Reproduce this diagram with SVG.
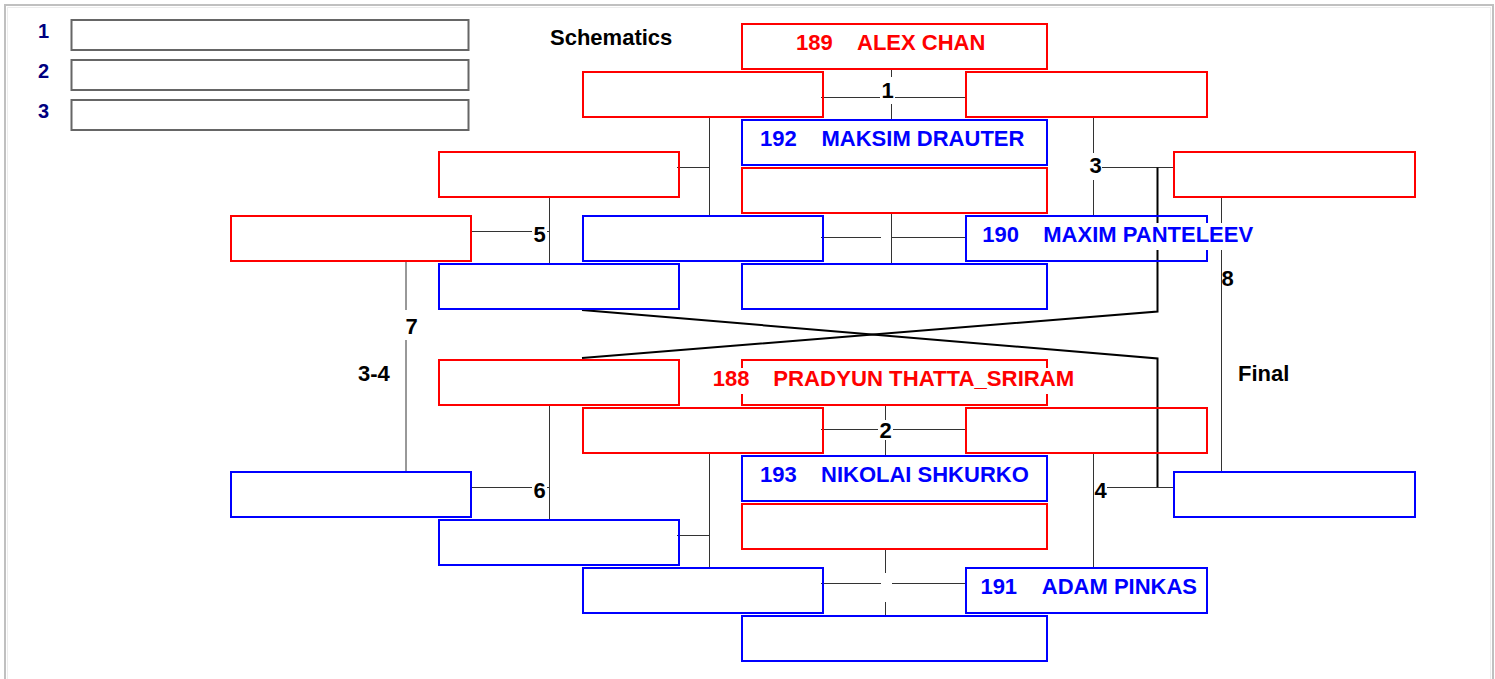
<svg xmlns="http://www.w3.org/2000/svg" width="1495" height="679" viewBox="0 0 1495 679">
<style>
  .frame{fill:none;stroke:#c0c0c0;stroke-width:2}
  .frame2{fill:none;stroke:#ececec;stroke-width:1}
  .gbox{fill:none;stroke:#666;stroke-width:2}
  .r{fill:none;stroke:#ff0000;stroke-width:2}
  .b{fill:none;stroke:#0000ff;stroke-width:2}
  .ln{fill:none;stroke:#333;stroke-width:1}
  .th{fill:none;stroke:#000;stroke-width:2}
  .bg{fill:#fff}
  text{font-family:"Liberation Sans",Arial,Helvetica,sans-serif;font-weight:bold;font-size:22px}
  .k{fill:#000}
  .nv{fill:#000080;font-size:20px}
  .tr{fill:#ff0000}
  .tb{fill:#0000ff}
  .mid{text-anchor:middle}
</style>
<rect class="frame" x="5" y="5" width="1488" height="700"/>
<rect class="frame2" x="7.5" y="7.5" width="1483" height="700"/>

<g id="places">
  <text class="nv mid" x="43.5" y="38">1</text>
  <rect class="gbox" x="71.5" y="20" width="397" height="30"/>
  <text class="nv mid" x="43.5" y="78">2</text>
  <rect class="gbox" x="71.5" y="60" width="397" height="30"/>
  <text class="nv mid" x="43.5" y="118">3</text>
  <rect class="gbox" x="71.5" y="100" width="397" height="30"/>
</g>

<g id="titles">
  <text class="k" x="550" y="45">Schematics</text>
  <text class="k" x="1238" y="381">Final</text>
  <text class="k" x="358" y="381">3-4</text>
</g>

<g id="connectors">
  <path class="ln" d="M821,97.5H965M891.5,70V119"/>
  <rect class="bg" x="880" y="77" width="15" height="27"/>
  <text class="k mid" x="887.5" y="98">1</text>
  <path class="ln" d="M709.5,118V215M677,167.5H709.5"/>
  <path class="ln" d="M549.5,198V263M470,231.5H549.5"/>
  <rect class="bg" x="532" y="222" width="15" height="24"/>
  <text class="k mid" x="539.5" y="242">5</text>
  <path class="ln" d="M406,262V471"/>
  <rect class="bg" x="404" y="310" width="14" height="30"/>
  <text class="k mid" x="411.5" y="334">7</text>
  <path class="ln" d="M821,237.5H965M891.5,214V263"/>
  <rect class="bg" x="881" y="221" width="10" height="29"/>
  <path class="ln" d="M1093.5,118V215M1100,167.5H1173"/>
  <rect class="bg" x="1089" y="153" width="13" height="27"/>
  <text class="k mid" x="1095.7" y="173">3</text>
  <path class="th" d="M1157.5,167.5V311.5L582,358"/>
  <path class="th" d="M582,310L1157.5,358.5V487.5"/>
  <path class="ln" d="M1093.5,454V567M1107,487.5H1173"/>
  <rect class="bg" x="1095" y="478" width="12" height="24"/>
  <text class="k mid" x="1100.5" y="498">4</text>
  <path class="ln" d="M1221.5,198V471"/>
  <text class="k mid" x="1227.5" y="286">8</text>
  <path class="ln" d="M821,429.5H965M885.5,406V455"/>
  <rect class="bg" x="878" y="420" width="15" height="20"/>
  <text class="k mid" x="885.7" y="438">2</text>
  <path class="ln" d="M549.5,406V519M470,487.5H549.5"/>
  <rect class="bg" x="532" y="478" width="15" height="24"/>
  <text class="k mid" x="539.5" y="498">6</text>
  <path class="ln" d="M709.5,454V567M677,535.5H709.5"/>
  <path class="ln" d="M821,583.5H965M885.5,550V615"/>
  <rect class="bg" x="881" y="573" width="11" height="29"/>
</g>

<g id="nodeA"><rect class="r" x="742" y="24" width="305" height="45"/>
  <text class="tr" x="796" y="50">189</text><text class="tr" x="857" y="50">ALEX CHAN</text></g>
<g id="nodeB1"><rect class="r" x="583" y="72" width="240" height="45"/></g>
<g id="nodeB2"><rect class="r" x="966" y="72" width="241" height="45"/></g>
<g id="nodeC"><rect class="b" x="742" y="120" width="305" height="45"/>
  <text class="tb" x="760" y="146">192</text><text class="tb" x="821.5" y="146">MAKSIM DRAUTER</text></g>
<g id="nodeD"><rect class="r" x="742" y="168" width="305" height="45"/></g>
<g id="nodeE"><rect class="b" x="583" y="216" width="240" height="45"/></g>
<g id="nodeF"><rect class="b" x="966" y="216" width="241" height="45"/>
  <rect class="bg" x="980" y="223" width="274" height="27"/>
  <text class="tb" x="982.3" y="242.3">190</text><text class="tb" x="1043.3" y="242.3">MAXIM PANTELEEV</text></g>
<g id="nodeG"><rect class="b" x="742" y="264" width="305" height="45"/></g>
<g id="nodeH"><rect class="r" x="439" y="152" width="240" height="45"/></g>
<g id="nodeI"><rect class="b" x="439" y="264" width="240" height="45"/></g>
<g id="nodeJ"><rect class="r" x="231" y="216" width="240" height="45"/></g>
<g id="nodeK"><rect class="r" x="1174" y="152" width="241" height="45"/></g>

<g id="nodeL"><rect class="r" x="439" y="360" width="240" height="45"/></g>
<g id="nodeM"><rect class="r" x="742" y="360" width="305" height="45"/>
  <rect class="bg" x="710" y="368" width="368" height="26"/>
  <text class="tr" x="712.7" y="385.7">188</text><text class="tr" x="773.3" y="385.7" textLength="301" lengthAdjust="spacingAndGlyphs">PRADYUN THATTA_SRIRAM</text></g>
<g id="nodeN"><rect class="r" x="583" y="408" width="240" height="45"/></g>
<g id="nodeO"><rect class="r" x="966" y="408" width="241" height="45"/></g>
<g id="nodeP"><rect class="b" x="742" y="456" width="305" height="45"/>
  <text class="tb" x="760" y="481.7">193</text><text class="tb" x="821" y="481.7">NIKOLAI SHKURKO</text></g>
<g id="nodeQ"><rect class="r" x="742" y="504" width="305" height="45"/></g>
<g id="nodeR"><rect class="b" x="231" y="472" width="240" height="45"/></g>
<g id="nodeS"><rect class="b" x="439" y="520" width="240" height="45"/></g>
<g id="nodeT"><rect class="b" x="583" y="568" width="240" height="45"/></g>
<g id="nodeU"><rect class="b" x="966" y="568" width="241" height="45"/>
  <text class="tb" x="980.4" y="594.3">191</text><text class="tb" x="1041.8" y="594.3">ADAM PINKAS</text></g>
<g id="nodeV"><rect class="b" x="742" y="616" width="305" height="45"/></g>
<g id="nodeW"><rect class="b" x="1174" y="472" width="241" height="45"/></g>
</svg>
